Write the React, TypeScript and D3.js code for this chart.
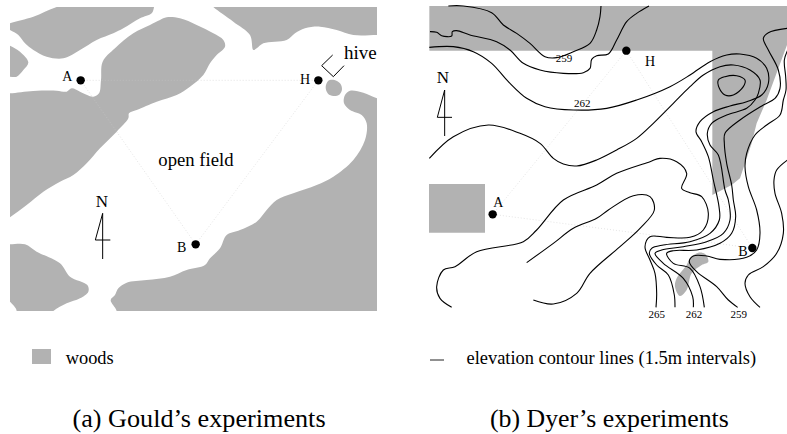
import React from "react";
import * as d3 from "d3";

type P = [number, number];

// Left map outlines (map units)
const woodsTopLeft: P[] = [[0,85],[30,70],[100,50],[170,21],[250,0],[462,0],[462,21],[455,40],[420,55],[370,85],[340,100],[290,120],[240,150],[190,175],[140,170],[100,150],[75,130],[55,105],[30,90],[0,75]];
const woodsLeftSmall: P[] = [[0,125],[30,137],[60,155],[85,187],[70,210],[50,230],[30,230],[0,230]];
const woodsCentral: P[] = [[500,52],[540,55],[590,75],[640,100],[670,120],[675,140],[650,165],[630,190],[610,225],[570,260],[530,285],[470,305],[410,330],[387,340],[385,355],[350,395],[300,445],[260,490],[220,525],[180,545],[130,575],[80,615],[30,652],[0,675],[0,280],[30,280],[100,273],[170,272],[200,275],[215,265],[240,275],[280,290],[297,280],[303,240],[308,185],[345,145],[400,100],[450,75],[480,60]];
const woodsTopRight: P[] = [[640,21],[700,65],[750,105],[760,150],[770,145],[790,130],[860,120],[885,100],[915,85],[960,80],[1010,90],[1060,105],[1131,105],[1170,105],[1170,0],[620,0]];
const woodsPond: P[] = [[985,242],[1003,240],[1020,250],[1026,268],[1018,284],[1000,288],[984,281],[977,262]];
const woodsRight: P[] = [[1170,310],[1131,295],[1090,278],[1050,272],[1035,285],[1032,310],[1050,330],[1085,345],[1100,370],[1095,420],[1060,480],[1000,530],[950,555],[880,580],[830,600],[800,630],[770,665],[720,690],[680,705],[660,745],[630,775],[615,795],[560,810],[510,830],[440,840],[380,848],[355,865],[345,885],[332,900],[350,933],[350,970],[1170,970]];
const woodsBottomLeft: P[] = [[0,733],[30,733],[75,733],[110,755],[180,790],[210,830],[262,855],[265,875],[240,895],[200,910],[160,933],[130,970],[30,970],[50,933],[30,905],[0,880]];
const leftWoods = [woodsTopLeft, woodsLeftSmall, woodsCentral, woodsTopRight, woodsPond, woodsRight, woodsBottomLeft];
const leftPanel: P[] = [[30,21],[1131,933]];
const hiveMarker: P[] = [[998,165],[965,197],[1000,230],[1032,197]];
const leftSites: P[] = [[242,241],[955,241],[587,733]];
const leftNorth: P[][] = [[[308,640],[308,777]],[[308,640],[286,720],[331,720]]];

// Right map outlines (map units)
const rightBlockTop: P[] = [[28,18],[1101,18],[1101,135],[1040,300],[1010,370],[995,430],[975,490],[960,535],[935,555],[877,585],[877,152],[28,152]];
const rightSquare: P[] = [[27,552],[195,552],[195,698],[27,698]];
const rightBlob: P[] = [[835,758],[855,762],[865,785],[845,795],[815,820],[800,870],[780,888],[765,860],[770,835],[800,795],[810,775]];
const contourA: P[] = [[85,18],[130,18],[215,38],[250,75],[290,100],[330,130],[375,170],[410,173],[460,155],[510,130],[530,90],[540,50],[543,18]];
const contourB: P[] = [[30,95],[50,97],[65,107],[95,108],[97,95],[110,92],[150,105],[230,125],[270,150],[310,190],[360,210],[430,220],[490,218],[510,205],[515,178],[530,167],[565,162],[590,120],[620,65],[650,40],[687,18]];
const contourC: P[] = [[28,142],[100,140],[160,155],[215,190],[265,245],[320,295],[375,320],[460,330],[560,325],[650,300],[750,260],[810,225],[870,185],[920,165],[960,162],[1010,175],[1040,205],[1045,250],[1025,285],[980,305],[930,318],[880,335],[840,365],[828,395],[845,425],[865,470],[880,540],[897,620],[898,660],[870,700],[810,725],[730,735],[695,745],[688,760],[710,795],[745,825],[763,885],[765,922]];
const contourD: P[] = [[28,475],[100,410],[205,375],[300,400],[360,430],[400,475],[430,492],[470,498],[530,480],[590,450],[650,415],[700,370],[760,310],[810,260],[850,225],[900,200],[940,195],[990,210],[1020,240],[1015,280],[1005,300],[980,325],[920,345],[875,370],[862,400],[870,435],[895,465],[915,570],[925,600],[930,660],[910,700],[860,725],[790,740],[725,750],[705,760],[730,790],[790,835],[818,890],[820,922]];
const contourE: P[] = [[1110,84],[1045,98],[1030,115],[1045,150],[1075,210],[1080,265],[1065,295],[1030,315],[960,360],[915,400],[913,430],[920,490],[935,555],[940,600],[947,650],[935,700],[900,730],[830,750],[760,752],[740,760],[760,790],[810,805],[840,860],[853,922]];
const contourF: P[] = [[1103,150],[1093,180],[1097,230],[1098,270],[1090,300],[1080,345],[1040,375],[1005,405],[980,460],[975,500],[985,560],[1010,630],[1020,700],[1010,750],[980,772],[900,778],[860,768],[820,768],[808,785],[830,815],[890,860],[925,900],[953,922]];
const contourG: P[] = [[1105,478],[1070,510],[1062,540],[1065,580],[1085,640],[1090,700],[1070,760],[1030,800],[985,825],[975,850],[990,890],[1020,922]];
const contourH: P[] = [[95,922],[60,895],[50,860],[70,810],[105,800],[170,755],[310,725],[350,690],[430,600],[530,555],[590,520],[690,485],[720,475],[770,485],[800,520],[785,565],[810,578],[845,590],[865,640],[850,690],[810,712],[740,712],[690,710],[675,740],[690,780],[705,820],[710,880],[708,922]];
const contourI: P[] = [[320,788],[400,730],[460,685],[530,655],[565,630],[640,587],[690,590],[703,630],[660,685],[600,740],[510,820],[470,880],[400,912],[340,900]];
const contourLoop: P[] = [[895,240],[915,230],[950,227],[975,240],[970,260],[940,285],[915,285],[898,265]];
const openContours = [contourA, contourB, contourC, contourD, contourE, contourF, contourG, contourH, contourI];
const rightSites: P[] = [[218,643],[619,152],[997,744]];
const rightNorth: P[][] = [[[74,270],[74,408]],[[74,270],[52,352],[96,352]]];

const WOODS = "#b2b2b2";
const SERIF = "'Liberation Serif', 'Times New Roman', serif";

export default function App() {
  const lx = d3.scaleLinear().domain([0, 1200]).range([0, 400]);
  const ly = d3.scaleLinear().domain([0, 960]).range([0, 320]);
  const rx = d3.scaleLinear().domain([0, 1101]).range([420, 787]);
  const ry = d3.scaleLinear().domain([0, 1302]).range([0, 434]);

  const lClosed = d3.line<P>().x(d => lx(d[0])).y(d => ly(d[1])).curve(d3.curveCatmullRomClosed.alpha(0.5));
  const lPoly = d3.line<P>().x(d => lx(d[0])).y(d => ly(d[1]));
  const rPoly = d3.line<P>().x(d => rx(d[0])).y(d => ry(d[1]));
  const rOpen = d3.line<P>().x(d => rx(d[0])).y(d => ry(d[1])).curve(d3.curveCatmullRom.alpha(0.5));
  const rClosed = d3.line<P>().x(d => rx(d[0])).y(d => ry(d[1])).curve(d3.curveCatmullRomClosed.alpha(0.5));

  const [lA, lH, lB] = leftSites;
  const [rA, rH, rB] = rightSites;
  const triLeft: P[] = [lA, lH, lB, lA];
  const triRight: P[] = [rA, rH, rB, rA];

  return (
    <svg width={787} height={434} viewBox="0 0 787 434"
      style={{ position: "absolute", left: 0, top: 0, background: "#fff" }}
      fontFamily={SERIF} fill="#000">
      <defs>
        <clipPath id="lp">
          <rect x={lx(leftPanel[0][0])} y={ly(leftPanel[0][1])}
            width={lx(leftPanel[1][0]) - lx(leftPanel[0][0])}
            height={ly(leftPanel[1][1]) - ly(leftPanel[0][1])} />
        </clipPath>
      </defs>

      <g clipPath="url(#lp)">
        {leftWoods.map((w, i) => <path key={i} d={lClosed(w) ?? ""} fill={WOODS} />)}
      </g>
      <path d={lPoly(triLeft) ?? ""} fill="none" stroke="#c8c8c8" strokeWidth={0.5} strokeDasharray="1 2" />
      <path d={lPoly(hiveMarker) ?? ""} fill="none" stroke="#000" strokeWidth={1} />
      {leftNorth.map((p, i) => <path key={i} d={lPoly(p) ?? ""} fill="none" stroke="#000" strokeWidth={1} />)}
      {leftSites.map((s, i) => <circle key={i} cx={lx(s[0])} cy={ly(s[1])} r={4.2} />)}
      <text x={62.3} y={81} fontSize={14}>A</text>
      <text x={300} y={84} fontSize={14}>H</text>
      <text x={177} y={251.7} fontSize={14}>B</text>
      <text x={344} y={58.5} fontSize={19}>hive</text>
      <text x={158.3} y={165.7} fontSize={18.7}>open field</text>
      <text x={102} y={206.7} fontSize={17} textAnchor="middle">N</text>

      <path d={rPoly(rightBlockTop) ?? ""} fill={WOODS} />
      <path d={rPoly(rightSquare) ?? ""} fill={WOODS} />
      <path d={rClosed(rightBlob) ?? ""} fill={WOODS} />
      <path d={rPoly(triRight) ?? ""} fill="none" stroke="#c8c8c8" strokeWidth={0.5} strokeDasharray="1 2" />
      {openContours.map((c, i) => <path key={i} d={rOpen(c) ?? ""} fill="none" stroke="#000" strokeWidth={1.1} />)}
      <path d={rClosed(contourLoop) ?? ""} fill="none" stroke="#000" strokeWidth={1.1} />
      {rightNorth.map((p, i) => <path key={i} d={rPoly(p) ?? ""} fill="none" stroke="#000" strokeWidth={1} />)}
      {rightSites.map((s, i) => <circle key={i} cx={rx(s[0])} cy={ry(s[1])} r={4.2} />)}
      <text x={645} y={65.7} fontSize={14}>H</text>
      <text x={493.3} y={207.3} fontSize={14}>A</text>
      <text x={738.3} y={256} fontSize={14}>B</text>
      <text x={443} y={83.3} fontSize={17} textAnchor="middle">N</text>
      <text x={564} y={61.7} fontSize={11} textAnchor="middle">259</text>
      <text x={582.3} y={106.7} fontSize={11} textAnchor="middle">262</text>
      <text x={656.7} y={318.3} fontSize={11} textAnchor="middle">265</text>
      <text x={694} y={318.3} fontSize={11} textAnchor="middle">262</text>
      <text x={738.7} y={318.3} fontSize={11} textAnchor="middle">259</text>

      <rect x={32} y={349} width={19} height={15} fill={WOODS} />
      <text x={65.7} y={364} fontSize={18.4}>woods</text>
      <line x1={430} x2={444} y1={360} y2={360} stroke="#222" strokeWidth={1} />
      <text x={466.5} y={364} fontSize={18.4}>elevation contour lines (1.5m intervals)</text>
      <text x={72.5} y={427} fontSize={26.2}>(a) Gould’s experiments</text>
      <text x={490} y={427} fontSize={25.8}>(b) Dyer’s experiments</text>
    </svg>
  );
}
